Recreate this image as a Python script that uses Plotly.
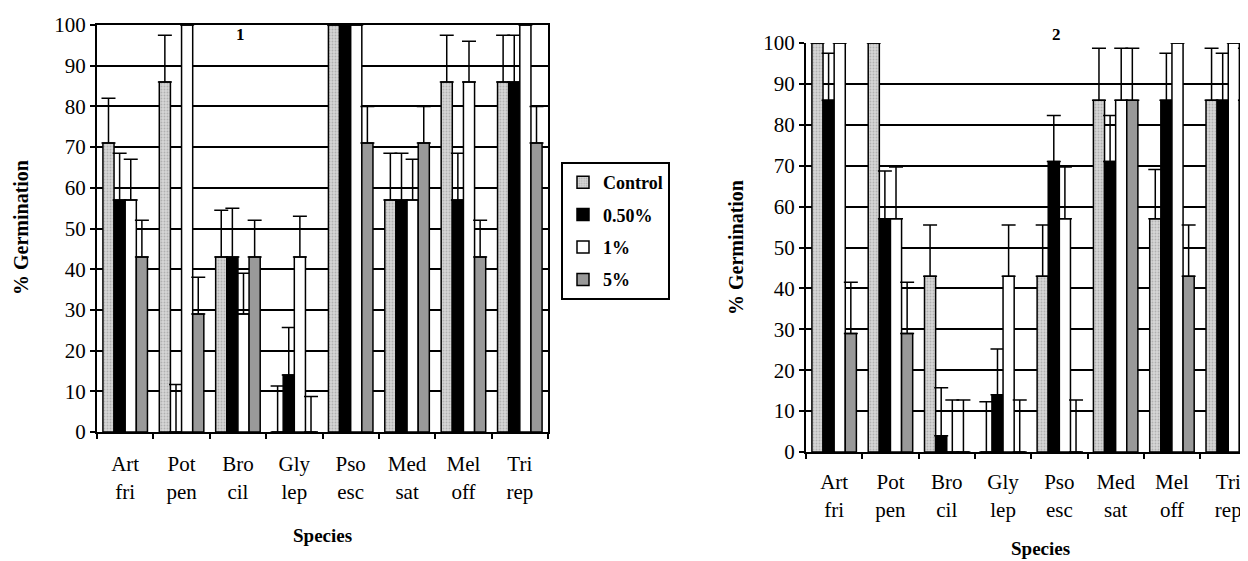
import plotly.graph_objects as go

species = ["Art<br>fri", "Pot<br>pen", "Bro<br>cil", "Gly<br>lep", "Pso<br>esc", "Med<br>sat", "Mel<br>off", "Tri<br>rep"]
treatments = ["Control", "0.50%", "1%", "5%"]

# Panel 1 values (% germination) and upper error bars
p1_control = [71, 86, 43, 0, 100, 57, 86, 86]
p1_050 = [57, 0, 43, 14, 100, 57, 57, 86]
p1_1 = [57, 100, 29, 43, 100, 57, 86, 100]
p1_5 = [43, 29, 43, 0, 71, 71, 43, 71]
p1_control_err = [11, 11.5, 11.5, 11.3, None, 11.5, 11.5, 11.5]
p1_050_err = [11.5, 11.7, 12, 11.7, None, 11.5, 11.5, 11.5]
p1_1_err = [10, None, 10, 10, None, 10, 10, None]
p1_5_err = [9, 9, 9, 8.7, 9, 9, 9, 9]

# Panel 2 values (% germination) and upper error bars
p2_control = [100, 100, 43, 0, 43, 86, 57, 86]
p2_050 = [86, 57, 4, 14, 71, 71, 86, 86]
p2_1 = [100, 57, 0, 43, 57, 86, 100, 100]
p2_5 = [29, 29, 0, 0, 0, 86, 43, 86]
p2_control_err = [None, None, 12.5, 12.3, 12.5, 12.7, 12.1, 12.7]
p2_050_err = [11.5, 11.7, 11.7, 11.2, 11.3, 11.3, 11.5, 11.5]
p2_1_err = [None, 12.7, 12.7, 12.5, 12.7, 12.7, None, None]
p2_5_err = [12.5, 12.5, 12.7, 12.7, 12.7, 12.7, 12.5, 12.7]

FONT = "Liberation Serif, Times New Roman, serif"
W, H = 1248, 561
OFF = 8  # page body margin offset


def px(x):
    return (x - OFF) / W


def py(y):
    return 1 - (y - OFF) / H


styles = {
    "Control": dict(color="#d6d6d6", pattern=dict(shape=".", fgcolor="#8a8a8a", size=3, solidity=0.3)),
    "0.50%": dict(color="#000000"),
    "1%": dict(color="#ffffff"),
    "5%": dict(color="#999999"),
}

fig = go.Figure()

panels = [
    ("x", "y", [p1_control, p1_050, p1_1, p1_5], [p1_control_err, p1_050_err, p1_1_err, p1_5_err], True),
    ("x2", "y2", [p2_control, p2_050, p2_1, p2_5], [p2_control_err, p2_050_err, p2_1_err, p2_5_err], False),
]
for xa, ya, vals, errs, show in panels:
    for name, v, e in zip(treatments, vals, errs):
        st = styles[name]
        marker = dict(color=st["color"], line=dict(color="black", width=1.5))
        if "pattern" in st:
            marker["pattern"] = st["pattern"]
        fig.add_trace(go.Bar(
            x=species, y=v, name="<b>" + name + "</b>", xaxis=xa, yaxis=ya,
            marker=marker, legendgroup=name, showlegend=show,
            error_y=dict(type="data", array=e, arrayminus=[0] * len(e), symmetric=False,
                         color="black", thickness=1.5, width=7),
        ))

axis_common = dict(showline=True, linecolor="black", linewidth=2, ticks="outside",
                   tickcolor="black", tickwidth=1.5, ticklen=5, automargin=False,
                   tickfont=dict(family=FONT, size=21, color="black"))

CAT = 56.3  # px per category in right panel
PW = W - (806 - OFF)  # right panel width up to the figure edge
fig.update_layout(
    width=W, height=H,
    margin=dict(l=0, r=0, t=0, b=0, autoexpand=False),
    paper_bgcolor="white", plot_bgcolor="white",
    barmode="group", bargap=0.21, bargroupgap=0,
    font=dict(family=FONT, color="black"),
    showlegend=True,
    legend=dict(x=px(561), y=py(162), xanchor="left", yanchor="top",
                bordercolor="black", borderwidth=2, bgcolor="white",
                font=dict(family=FONT, size=18, color="black"),
                tracegroupgap=6, itemwidth=30),
    xaxis=dict(domain=[px(97), px(548)], anchor="y", tickson="boundaries",
               mirror=True, showgrid=False, ticklabelstandoff=12, **axis_common),
    yaxis=dict(domain=[py(432), py(25)], anchor="x", range=[0, 100], dtick=10,
               mirror=True, showgrid=True, gridcolor="black", gridwidth=1.5, **axis_common),
    xaxis2=dict(domain=[px(806), 1.0], anchor="y2", tickson="boundaries",
                range=[-0.5, -0.5 + PW / CAT], showgrid=False, ticklabelstandoff=10, **axis_common),
    yaxis2=dict(domain=[py(452), py(43)], anchor="x2", range=[0, 100], dtick=10,
                showgrid=True, gridcolor="black", gridwidth=1.5, **axis_common),
)

annotations = [
    dict(text="<b>1</b>", x=px(240), y=py(34), size=17),
    dict(text="<b>2</b>", x=px(1056), y=py(34), size=17),
    dict(text="<b>% Germination</b>", x=px(21), y=py(228), textangle=-90, size=20),
    dict(text="<b>% Germination</b>", x=px(736), y=py(248), textangle=-90, size=20),
    dict(text="<b>Species</b>", x=px(322), y=py(535), size=19),
    dict(text="<b>Species</b>", x=px(1040), y=py(548), size=19),
]
for a in annotations:
    size = a.pop("size")
    a.update(xref="paper", yref="paper", showarrow=False, xanchor="center", yanchor="middle",
             font=dict(family=FONT, size=size, color="black"))
    fig.add_annotation(**a)

fig.write_html("out.html")
